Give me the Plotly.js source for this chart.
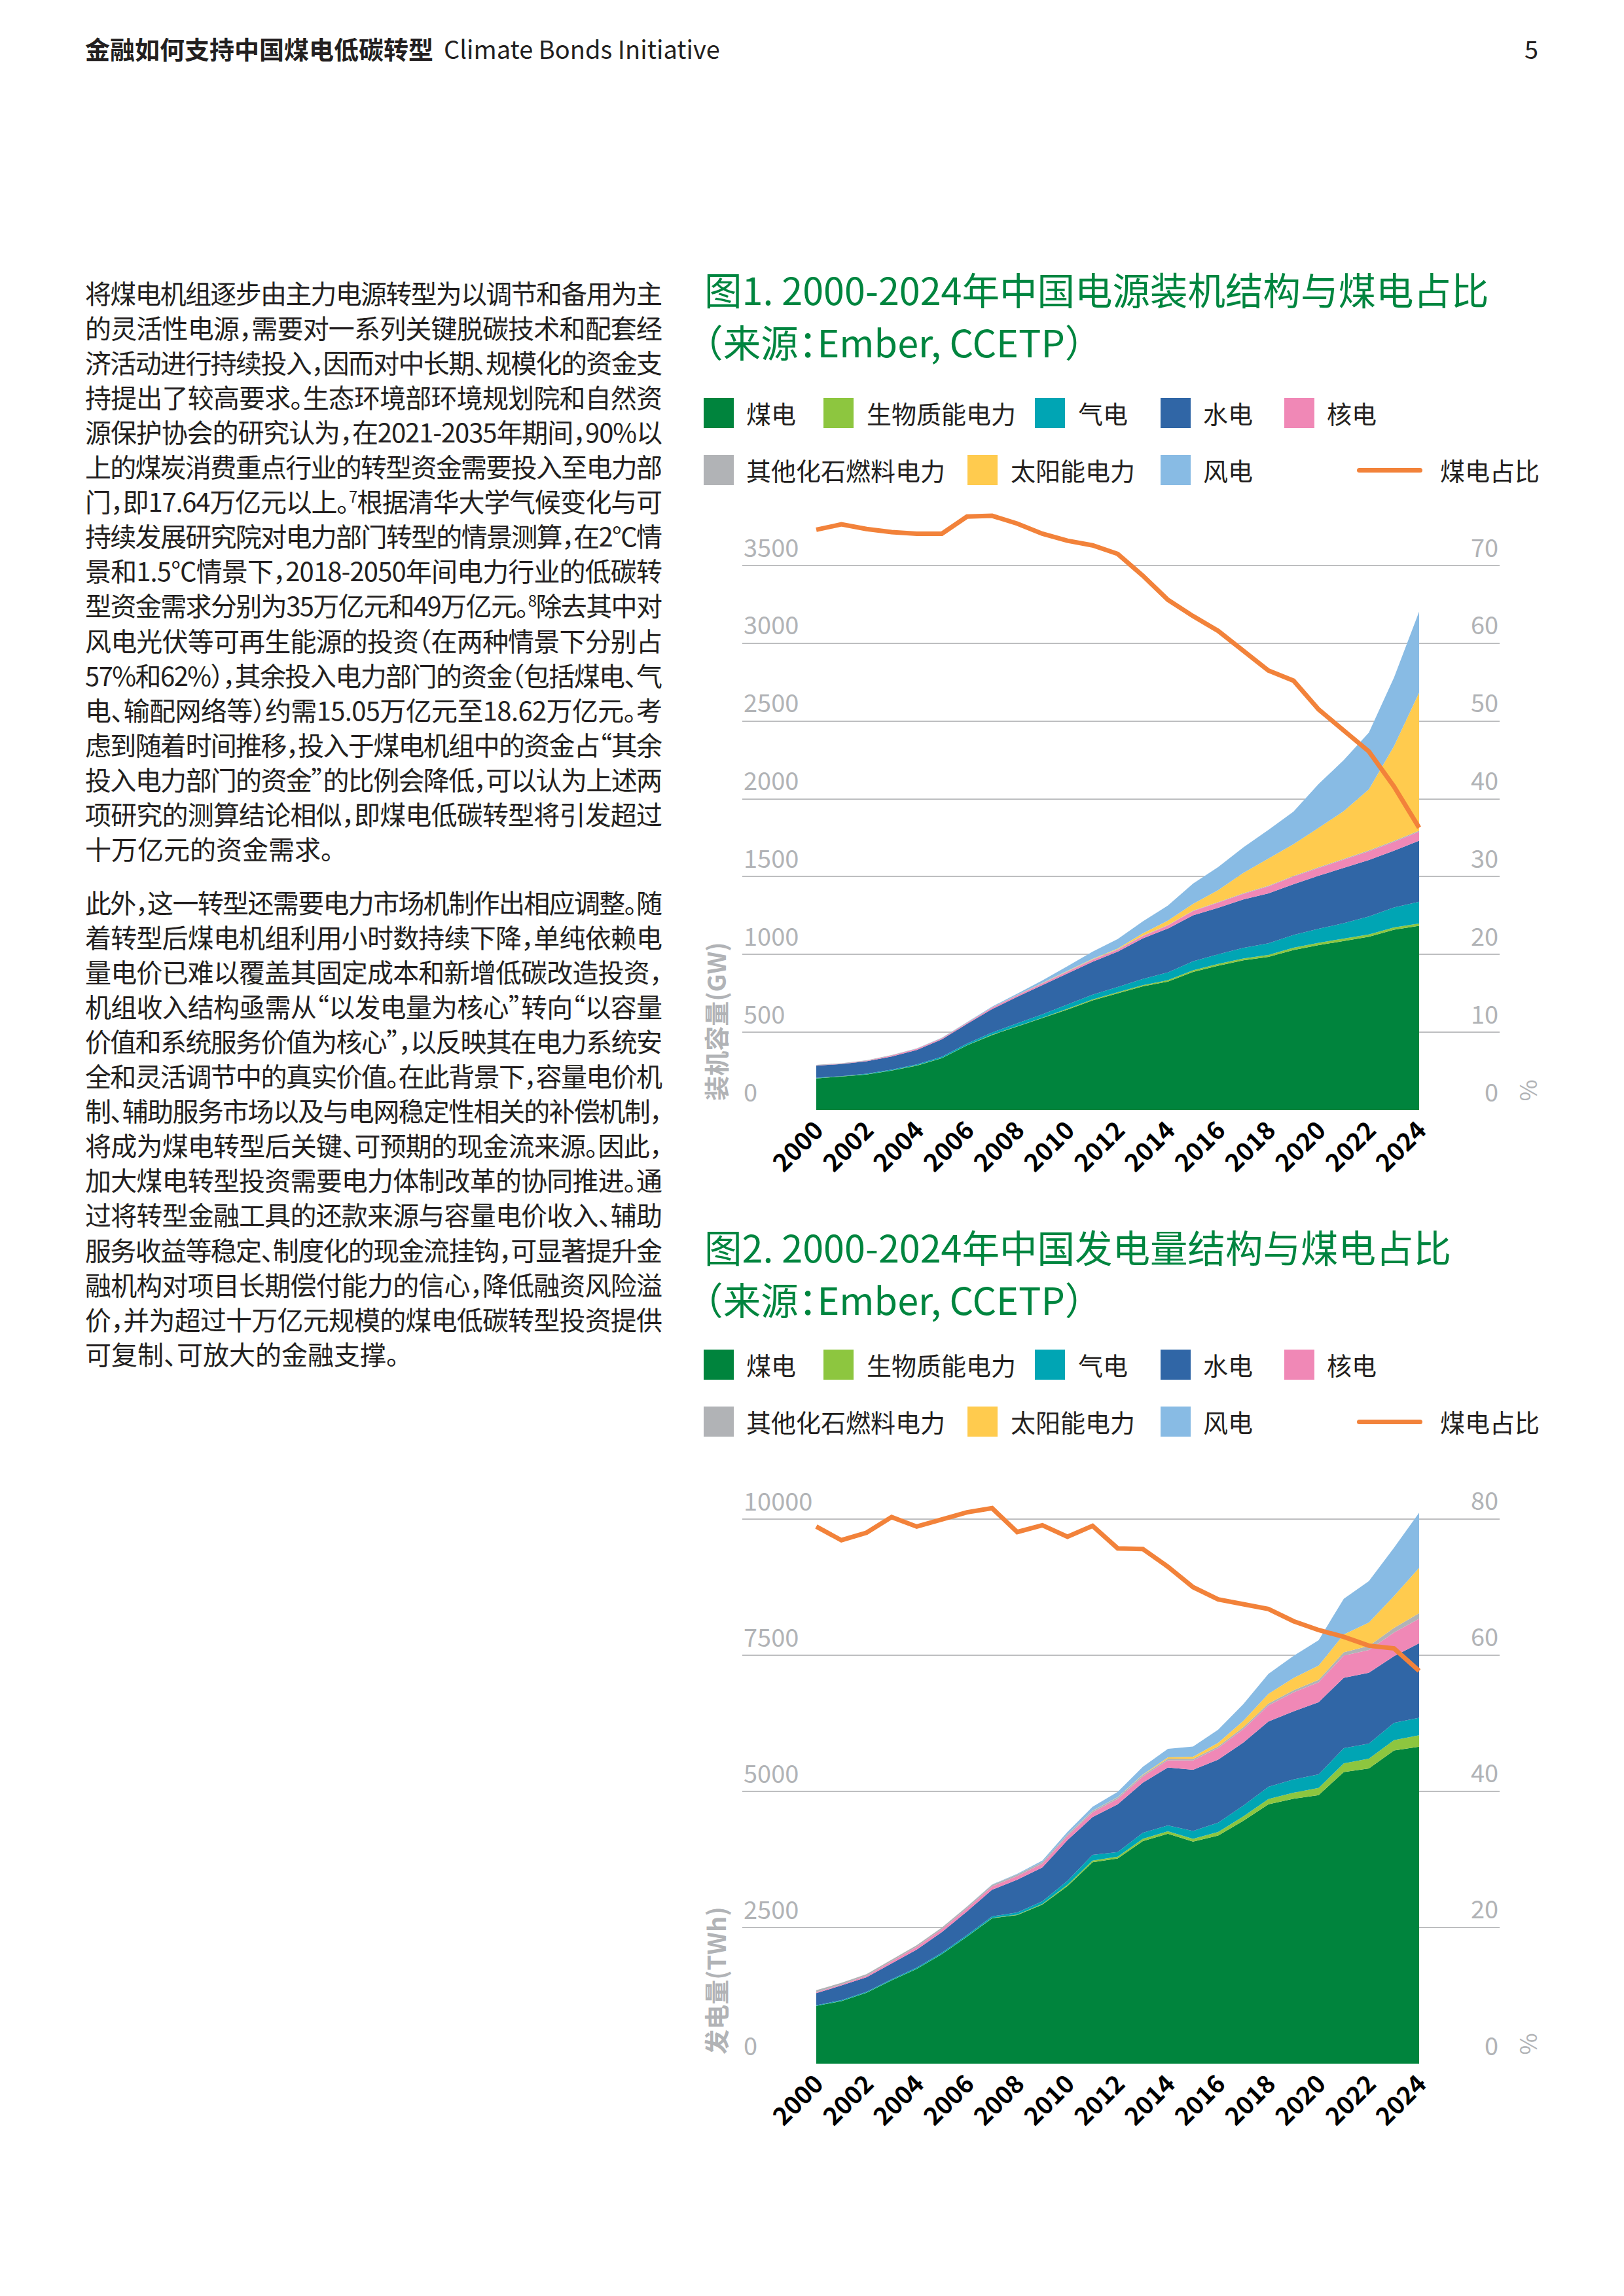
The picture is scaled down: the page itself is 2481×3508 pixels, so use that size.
<!DOCTYPE html>
<html><head><meta charset="utf-8">
<script src="https://cdn.plot.ly/plotly-3.0.1.min.js"></script>
<style>
html,body{margin:0;padding:0;background:#fff;}
body{width:2481px;height:3508px;position:relative;overflow:hidden;font-family:"Noto Sans CJK SC","Noto Sans",sans-serif;color:#231F20;}
.abs{position:absolute;white-space:nowrap;}
.tl{position:absolute;left:130px;white-space:nowrap;font-size:40px;line-height:53px;height:53px;font-feature-settings:"halt";}
.tl sup{font-size:24px;line-height:0;vertical-align:14px;}
.title{position:absolute;left:1076px;white-space:nowrap;font-size:57.5px;line-height:80px;color:#00853F;font-feature-settings:"halt";}
.sq{position:absolute;width:46px;height:46px;}
.lt{position:absolute;white-space:nowrap;font-size:38px;line-height:46px;color:#231F20;}
.ll{position:absolute;width:100px;height:7px;border-radius:4px;background:#F2823A;}
.chart{position:absolute;left:1060px;width:1400px;}
</style></head>
<body>
<div id="page"></div>
<div id="c1" class="chart" style="top:700px;height:1100px;"></div>
<div id="c2" class="chart" style="top:2200px;height:1057px;"></div>
<script>
// ---------------- DATA ----------------
const years = [2000,2001,2002,2003,2004,2005,2006,2007,2008,2009,2010,2011,2012,2013,2014,2015,2016,2017,2018,2019,2020,2021,2022,2023,2024];
const tickYears = [2000,2002,2004,2006,2008,2010,2012,2014,2016,2018,2020,2022,2024];
const seriesNames = ['煤电','生物质能电力','气电','水电','核电','其他化石燃料电力','太阳能电力','风电'];
const shareName = '煤电占比';

// Figure 1: installed capacity (GW)
const capCoal    = [203,214,228,254,285,333,415,482,536,589,646,705,750,795,826,888,928,962,984,1029,1060,1086,1114,1159,1184];
const capBio     = [1,1,1,1,2,2,2,3,3,4,5,6,7,8,9,10,11,12,13,14,15,15,15,15,15];
const capGas     = [3,3,4,5,6,8,10,14,18,22,27,31,34,40,50,58,62,68,75,82,90,100,115,128,140];
const capHydro   = [78,78,80,84,93,111,126,150,171,189,202,211,227,260,282,296,299,312,321,327,341,356,363,365,392];
const capNuclear = [2,2,4,6,7,7,7,9,9,9,11,13,13,15,20,27,34,36,45,49,50,53,56,57,58];
const capOther   = [3,3,3,3,3,3,3,3,3,3,3,3,3,3,3,3,3,4,4,4,5,5,6,6,7];
const capSolar   = [0,0,0,0,0,0,0,0,0,0,1,3,4,15,28,43,77,130,175,204,253,307,393,609,887];
const capWind    = [0,0,0,0,1,1,2,4,8,17,30,46,61,77,97,131,148,164,184,210,282,328,365,441,521];
const capShare   = [74.6,75.3,74.7,74.3,74.1,74.1,76.3,76.4,75.4,74.1,73.2,72.6,71.5,68.7,65.6,63.5,61.6,59.1,56.5,55.2,51.5,48.8,46.1,41.6,36.3];
const capLeftTicks  = [0,500,1000,1500,2000,2500,3000,3500];
const capRightTicks = [0,10,20,30,40,50,60,70];

// Figure 2: generation (TWh)
const genCoal    = [1060,1149,1301,1529,1740,2010,2331,2669,2728,2922,3260,3699,3767,4088,4223,4079,4189,4459,4763,4865,4932,5355,5422,5752,5819];
const genBio     = [2,2,2,3,3,4,5,6,8,10,25,30,35,40,45,50,65,80,95,110,130,160,180,190,211];
const genGas     = [10,16,17,18,20,22,25,30,40,50,70,105,83,112,107,145,172,199,226,245,250,279,276,316,321];
const genHydro   = [222,269,268,291,332,380,435,488,600,620,750,693,879,920,1064,1123,1157,1157,1200,1250,1327,1292,1301,1225,1369];
const genNuclear = [20,17,25,43,50,53,55,62,68,70,74,87,98,112,133,171,213,248,295,348,366,408,418,435,451];
const genOther   = [35,32,30,30,30,30,30,30,30,30,30,30,30,30,30,30,30,35,35,40,45,60,75,85,100];
const genSolar   = [0,0,0,0,0,0,0,0,0,0,1,3,4,9,23,40,67,118,177,225,261,327,428,584,834];
const genWind    = [0,0,0,0,0,2,4,6,13,28,45,70,96,141,156,186,241,305,366,406,467,656,762,887,1013];
const genShare   = [78.9,76.9,78.0,80.3,78.9,79.9,81.0,81.6,78.1,79.1,77.4,79.0,75.7,75.6,73.0,70.0,68.2,67.5,66.8,65.0,63.7,62.7,61.4,61.0,57.7];
const genLeftTicks  = [0,2500,5000,7500,10000];
const genRightTicks = [0,20,40,60,80];

// ---------------- TEXT ----------------
const headerBold = '金融如何支持中国煤电低碳转型';
const headerOrg = 'Climate Bonds Initiative';
const pageNo = '5';
const para1 = [
 '将煤电机组逐步由主力电源转型为以调节和备用为主',
 '的灵活性电源，需要对一系列关键脱碳技术和配套经',
 '济活动进行持续投入，因而对中长期、规模化的资金支',
 '持提出了较高要求。生态环境部环境规划院和自然资',
 '源保护协会的研究认为，在2021-2035年期间，90%以',
 '上的煤炭消费重点行业的转型资金需要投入至电力部',
 '门，即17.64万亿元以上。<sup>7</sup>根据清华大学气候变化与可',
 '持续发展研究院对电力部门转型的情景测算，在2°C情',
 '景和1.5°C情景下，2018-2050年间电力行业的低碳转',
 '型资金需求分别为35万亿元和49万亿元。<sup>8</sup>除去其中对',
 '风电光伏等可再生能源的投资（在两种情景下分别占',
 '57%和62%），其余投入电力部门的资金（包括煤电、气',
 '电、输配网络等）约需15.05万亿元至18.62万亿元。考',
 '虑到随着时间推移，投入于煤电机组中的资金占“其余',
 '投入电力部门的资金”的比例会降低，可以认为上述两',
 '项研究的测算结论相似，即煤电低碳转型将引发超过',
 '十万亿元的资金需求。'
];
const para2 = [
 '此外，这一转型还需要电力市场机制作出相应调整。随',
 '着转型后煤电机组利用小时数持续下降，单纯依赖电',
 '量电价已难以覆盖其固定成本和新增低碳改造投资，',
 '机组收入结构亟需从“以发电量为核心”转向“以容量',
 '价值和系统服务价值为核心”，以反映其在电力系统安',
 '全和灵活调节中的真实价值。在此背景下，容量电价机',
 '制、辅助服务市场以及与电网稳定性相关的补偿机制，',
 '将成为煤电转型后关键、可预期的现金流来源。因此，',
 '加大煤电转型投资需要电力体制改革的协同推进。通',
 '过将转型金融工具的还款来源与容量电价收入、辅助',
 '服务收益等稳定、制度化的现金流挂钩，可显著提升金',
 '融机构对项目长期偿付能力的信心，降低融资风险溢',
 '价，并为超过十万亿元规模的煤电低碳转型投资提供',
 '可复制、可放大的金融支撑。'
];
const title1 = ['图1. 2000-2024年中国电源装机结构与煤电占比','（来源：Ember, CCETP）'];
const title2 = ['图2. 2000-2024年中国发电量结构与煤电占比','（来源：Ember, CCETP）'];
const axisTitle1 = '装机容量(GW)';
const axisTitle2 = '发电量(TWh)';

const colors = ['#00843D','#8DC63F','#00A5B4','#3066A6','#F088B6','#B1B3B6','#FFCB4E','#88BBE4'];
const lineColor = '#F2823A';
const FONT = '"Noto Sans CJK SC", "Noto Sans", sans-serif';

// ---------------- PAGE TEXT ----------------
const page = document.getElementById('page');
function add(html, cls, style){ const d=document.createElement('div'); d.className=cls; d.innerHTML=html; d.setAttribute('style',style); page.appendChild(d); return d; }

add('<b>'+headerBold+'</b><span style="margin-left:16px">'+headerOrg+'</span>','abs','left:130px;top:48px;font-size:38px;line-height:52px;color:#231F20;');
add(pageNo,'abs','left:2329px;top:48px;font-size:38px;line-height:52px;color:#231F20;');

const textWidth = 882;
const justLines = [];
para1.forEach((t,i)=>{ const d=add(t,'tl','top:'+(447-26.5+i*53.1)+'px;'); if(i<para1.length-1) justLines.push(d); });
para2.forEach((t,i)=>{ const d=add(t,'tl','top:'+(1378-26.5+i*53.1)+'px;'); if(i<para2.length-1) justLines.push(d); });

function addTitle(lines, y0){ lines.forEach((t,i)=>add(t,'title','top:'+(y0-40+i*80)+'px;')); }
addTitle(title1, 441);
addTitle(title2, 1904);

function addLegend(row1y, row2y){
  const row1 = [[0,1075,1140],[1,1258,1324],[2,1581,1647],[3,1773,1838],[4,1962,2027]];
  const row2 = [[5,1075,1140],[6,1478,1544],[7,1773,1838]];
  row1.forEach(([k,sx,tx])=>{ add('','sq','left:'+sx+'px;top:'+(row1y-23)+'px;background:'+colors[k]+';'); add(seriesNames[k],'lt','left:'+tx+'px;top:'+(row1y-23)+'px;'); });
  row2.forEach(([k,sx,tx])=>{ add('','sq','left:'+sx+'px;top:'+(row2y-23)+'px;background:'+colors[k]+';'); add(seriesNames[k],'lt','left:'+tx+'px;top:'+(row2y-23)+'px;'); });
  add('','ll','left:2073px;top:'+(row2y-3)+'px;');
  add(shareName,'lt','left:2200px;top:'+(row2y-23)+'px;');
}
addLegend(631, 718);
addLegend(2085, 2172);

function justify(){
  justLines.forEach(el=>{
    el.style.letterSpacing='0px';
    const w = el.getBoundingClientRect().width;
    const n = [...el.textContent].length;
    el.style.letterSpacing = ((textWidth - w)/(n-1))+'px';
  });
}
justify();
if (document.fonts && document.fonts.ready) document.fonts.ready.then(justify);

// ---------------- CHARTS ----------------
function buildChart(div, series, share, leftTicks, rightTicks, yTop, y2Top, axisTitle, topMargin){
  const traces = series.map((vals,k)=>({
    x: years, y: vals, name: seriesNames[k], type:'scatter', mode:'lines',
    stackgroup:'s', fillcolor: colors[k], line:{width:0, color: colors[k], shape:'linear'},
    hoverinfo:'skip'
  }));
  traces.push({x: years, y: share, name: shareName, type:'scatter', mode:'lines', yaxis:'y2',
    line:{color: lineColor, width:7}, hoverinfo:'skip'});
  const ann = [];
  leftTicks.forEach(v=>ann.push({xref:'paper', x:0, xanchor:'left', yref:'y', y:v, yanchor:'middle', yshift:30,
     text:String(v), showarrow:false, font:{family:FONT, size:38, color:'#B1B3B6'}}));
  rightTicks.forEach(v=>ann.push({xref:'paper', x:1, xanchor:'right', yref:'y2', y:v, yanchor:'middle', yshift:30,
     text:String(v), showarrow:false, font:{family:FONT, size:38, color:'#B1B3B6'}}));
  ann.push({xref:'paper', x:-0.0365, xanchor:'center', yref:'y', y:0, yanchor:'bottom', yshift:12, textangle:-90,
     text:axisTitle, showarrow:false, font:{family:FONT, size:38, color:'#B1B3B6', weight:'bold'}});
  ann.push({xref:'paper', x:1.0354, xanchor:'center', yref:'y', y:0, yanchor:'bottom', yshift:12, textangle:-90,
     text:'%', showarrow:false, font:{family:FONT, size:36, color:'#B1B3B6'}});
  const layout = {
    width:1400, height: div.offsetHeight, margin:{l:74, r:169, t:topMargin, b:104, pad:0},
    paper_bgcolor:'rgba(0,0,0,0)', plot_bgcolor:'rgba(0,0,0,0)', showlegend:false,
    font:{family:FONT},
    xaxis:{range:[1997.055, 2027.205], tickmode:'array', tickvals: tickYears, ticktext: tickYears.map(String),
      tickangle:-45, tickfont:{family:FONT, size:38, color:'#000000', weight:'bold'},
      showgrid:false, zeroline:false, showline:false, ticks:''},
    yaxis:{range:[0,yTop], tickmode:'array', tickvals: leftTicks, showticklabels:false, showgrid:true,
      gridcolor:'#BDBEC0', gridwidth:2, zeroline:false, showline:false, ticks:''},
    yaxis2:{range:[0,y2Top], overlaying:'y', side:'right', showgrid:false, showticklabels:false, zeroline:false, showline:false, ticks:''},
    annotations: ann
  };
  Plotly.newPlot(div, traces, layout, {staticPlot:true, displayModeBar:false});
}
buildChart(document.getElementById('c1'),
  [capCoal,capBio,capGas,capHydro,capNuclear,capOther,capSolar,capWind], capShare,
  capLeftTicks, capRightTicks, 3896, 77.92, axisTitle1, 70);
buildChart(document.getElementById('c2'),
  [genCoal,genBio,genGas,genHydro,genNuclear,genOther,genSolar,genWind], genShare,
  genLeftTicks, genRightTicks, 10493, 83.94, axisTitle2, 80);
</script>
</body></html>
